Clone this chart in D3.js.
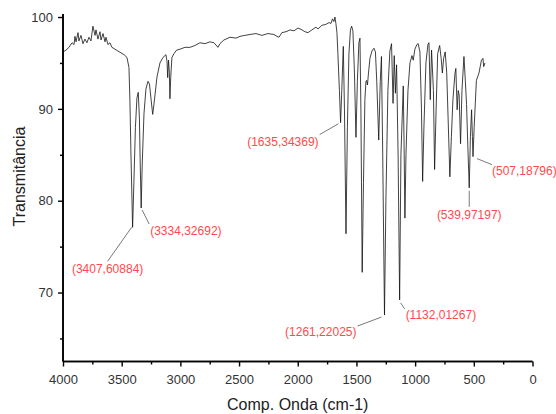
<!DOCTYPE html>
<html><head><meta charset="utf-8">
<script src="https://cdn.jsdelivr.net/npm/d3@7"></script>
<style>
html,body{margin:0;padding:0;background:#fff;}
svg{display:block;font-family:"Liberation Sans",Arial,sans-serif;}
</style></head>
<body>
<svg id="c" width="556" height="414"></svg>
<script>
// Wavenumbers (cm-1) and transmittance (%)
const wavenumber = [4000,3974,3949,3923,3906,3898,3889,3872,3864,3847,3830,3813,3796,3779,3762,3745,3727,3719,3702,3685,3676,3659,3642,3634,3617,3600,3583,3557,3532,3506,3480,3455,3438,3430,3421,3407,3396,3383,3370,3359,3349,3342,3334,3325,3310,3293,3276,3263,3251,3236,3225,3199,3174,3148,3123,3114,3108,3101,3094,3089,3082,3072,3055,3032,3003,2961,2918,2876,2833,2790,2748,2714,2680,2663,2629,2577,2526,2492,2450,2407,2356,2305,2254,2203,2177,2160,2135,2100,2066,2032,1998,1964,1939,1913,1879,1845,1828,1794,1760,1734,1717,1704,1692,1683,1675,1666,1658,1645,1635,1625,1612,1602,1589,1577,1564,1551,1541,1530,1517,1504,1492,1479,1470,1462,1451,1440,1428,1419,1413,1406,1398,1385,1368,1351,1338,1327,1310,1297,1287,1276,1261,1249,1232,1215,1201,1188,1178,1168,1158,1145,1132,1121,1101,1094,1087,1078,1061,1044,1027,1016,1002,985,974,959,946,936,925,908,891,882,871,860,844,834,821,808,791,778,768,757,744,731,719,704,691,678,661,653,642,633,625,613,601,584,572,562,551,539,529,519,512,507,497,478,456,435,422,416,405];
const transmittance = [96.2,96.4,96.7,97.2,97.0,97.9,97.3,98.3,97.4,98.0,97.1,97.6,97.2,97.8,97.4,99.0,98.0,98.6,97.6,98.4,97.5,98.2,97.3,97.8,97.0,97.2,96.7,96.5,96.3,96.1,95.9,95.6,94.5,91.0,85.0,77.1,82.0,88.0,91.2,91.8,89.0,84.0,79.2,84.0,89.5,92.2,93.0,92.7,91.2,89.4,90.5,93.5,95.0,95.6,95.9,95.2,93.4,95.3,94.0,91.1,93.5,95.6,96.0,96.4,96.5,96.7,96.7,96.9,97.2,97.1,97.3,97.2,96.7,97.1,97.5,97.8,97.7,97.9,98.0,98.1,98.2,98.0,98.2,98.1,97.9,97.8,98.3,98.4,98.6,98.5,98.8,98.6,98.4,98.3,98.6,98.9,98.7,99.1,99.2,99.4,99.3,99.8,99.5,100.0,99.3,98.3,96.0,92.0,88.5,92.0,96.8,90.0,76.4,88.0,96.0,98.6,99.0,98.5,94.0,86.9,93.0,97.2,97.7,90.0,72.2,82.0,91.0,93.0,93.1,92.6,93.8,95.5,96.3,96.6,96.2,93.0,86.6,93.0,95.7,85.0,67.55,80.0,92.0,96.3,97.1,90.6,95.8,91.7,94.8,85.0,69.2,85.0,92.5,86.0,78.1,85.0,92.0,95.0,95.8,95.3,96.5,97.0,97.1,96.2,90.0,82.1,88.0,95.0,97.0,97.2,91.0,96.4,92.0,83.4,90.0,96.0,96.9,95.5,93.9,95.5,96.2,94.0,89.0,82.6,87.0,91.0,93.8,94.4,89.9,92.0,91.5,86.2,92.0,95.7,93.0,90.5,86.0,81.4,87.0,89.9,87.0,84.8,88.0,93.1,93.9,95.3,95.5,94.6,95.0];

// Peak annotations
const peakWavenumber = [3407,3334,1635,1261,1132,539,507];
const peakTransmittance = [77.1,79.2,88.5,67.55,69.2,81.4,84.8];
const peakLabels = ["(3407,60884)","(3334,32692)","(1635,34369)","(1261,22025)","(1132,01267)","(539,97197)","(507,18796)"];

// Axis ticks
const xTicks = [4000,3500,3000,2500,2000,1500,1000,500,0];
const xMinorTicks = [3750,3250,2750,2250,1750,1250,750,250];
const yTicks = [100,90,80,70];
const yMinorTicks = [95,85,75,65];
const xTitle = "Comp. Onda (cm-1)";
const yTitle = "Transmitância";

// label layout: [leader start dx,dy, leader end dx,dy, text dx, text dy, anchor]
const labelLayout = [
  [-1,0,-25,34,-25,46,"middle"],
  [1,2,8,16,9,27,"start"],
  [-2,1,-21,12,-22,23,"end"],
  [-3,2,-27,11,-28,21,"end"],
  [1,3,5,9,6,19,"start"],
  [0,3,0,19,0,31,"middle"],
  [4,2,19,8,19,18,"start"]
];

const svg = d3.select("#c");
const x = d3.scaleLinear().domain([4000,0]).range([63,532.5]);
const y = d3.scaleLinear().domain([62.49,100.33]).range([361.5,14]);

const data = wavenumber.map((w,i)=>({w, t: transmittance[i]}));

// spectrum
svg.append("path")
  .datum(data)
  .attr("fill","none")
  .attr("stroke","#111")
  .attr("stroke-width",0.8)
  .attr("stroke-linejoin","round")
  .attr("d", d3.line().x(d=>x(d.w)).y(d=>y(d.t)));

// axes
const gx = svg.append("g").attr("transform","translate(0,361.5)");
gx.call(d3.axisBottom(x).tickValues(xMinorTicks).tickSize(3).tickFormat(""));
gx.append("g").call(d3.axisBottom(x).tickValues(xTicks).tickSize(5).tickPadding(8).tickFormat(d3.format("d")));
const gy = svg.append("g").attr("transform","translate(63,0)");
gy.call(d3.axisLeft(y).tickValues(yMinorTicks).tickSize(3).tickFormat(""));
gy.append("g").call(d3.axisLeft(y).tickValues(yTicks).tickSize(5).tickPadding(5).tickFormat(d3.format("d")));

svg.selectAll(".domain").attr("stroke","#000").attr("stroke-width",1.6);
svg.selectAll(".tick line").attr("stroke","#000").attr("stroke-width",1.4);
svg.selectAll(".tick text").attr("font-size","13px").attr("fill","#333")
   .attr("font-family","'Liberation Sans',Arial,sans-serif");
// custom: y domain extends fully
gy.selectAll(".domain").attr("d","M0,14V361.5");
gx.selectAll(".domain").attr("d","M63,0H532.5");

// titles
svg.append("text").attr("x",(63+532.5)/2).attr("y",410).attr("text-anchor","middle")
  .attr("font-size","16px").attr("fill","#222").text(xTitle);
svg.append("text").attr("transform","translate(25,176.5) rotate(-90)").attr("text-anchor","middle")
  .attr("font-size","16px").attr("fill","#222").text(yTitle);

// annotations
const ann = svg.append("g");
peakWavenumber.forEach((w,i)=>{
  const px = x(w), py = y(peakTransmittance[i]);
  const L = labelLayout[i];
  ann.append("line").attr("x1",px+L[0]).attr("y1",py+L[1]).attr("x2",px+L[2]).attr("y2",py+L[3])
    .attr("stroke","#555").attr("stroke-width",0.8);
  ann.append("text").attr("x",px+L[4]).attr("y",py+L[5]).attr("text-anchor",L[6])
    .attr("font-size","12px").attr("fill","#ff4a4a").text(peakLabels[i]);
});
</script>
</body></html>
